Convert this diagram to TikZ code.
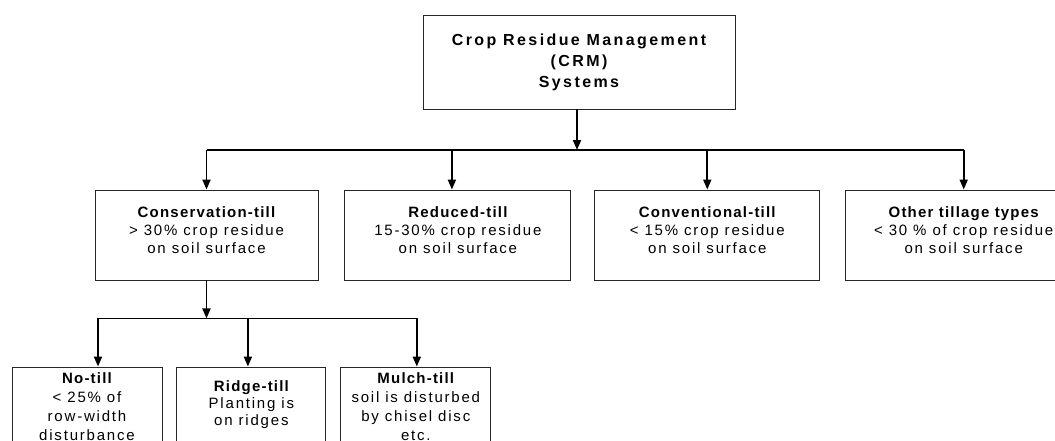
\documentclass[tikz,border=0pt]{standalone}
\usepackage{fontspec}
\setmainfont{Liberation Sans}
\newfontfamily\titlefont[LetterSpace=15]{Liberation Sans}
\newfontfamily\headfont[LetterSpace=8]{Liberation Sans}
\newfontfamily\boxfont[LetterSpace=12]{Liberation Sans}
\usetikzlibrary{positioning, arrows.meta}

\begin{document}
\begin{tikzpicture}[x=1pt, y=1pt, >={Triangle[length=10pt, width=8pt]},
  box/.style={draw=black!85, line width=0.9pt, align=center, inner sep=2pt},
  tillbox/.style={box, minimum height=90pt, font=\boxfont\fontsize{15}{18}\selectfont},
  subbox/.style={box, minimum height=80pt, minimum width=150pt, font=\boxfont\fontsize{15}{19}\selectfont},
  link/.style={line width=1.8pt}]

\useasboundingbox (0,0) rectangle (1055,-440);

% Top
\node (crm) [box, minimum width=312pt, minimum height=94pt, font=\titlefont\bfseries\fontsize{16}{21}\selectfont] at (579,-62) {Crop Residue Management\\ (CRM)\\ Systems};

% Tillage systems
\node (cons) [tillbox, minimum width=223pt] at (206.5,-235) {{\headfont\bfseries Conservation-till}\\ > 30\% crop residue\\ on soil surface\\[-9pt]\mbox{}};
\node (red) [tillbox, minimum width=226pt, right=26pt of cons] {{\headfont\bfseries Reduced-till}\\ 15-30\% crop residue\\ on soil surface\\[-9pt]\mbox{}};
\node (conv) [tillbox, minimum width=225pt, right=23pt of red] {{\headfont\bfseries Conventional-till}\\ < 15\% crop residue\\ on soil surface\\[-9pt]\mbox{}};
\node (other) [tillbox, minimum width=236pt, right=25pt of conv] {{\headfont\bfseries Other tillage types}\\ < 30 \% of crop residue\\ on soil surface\\[-9pt]\mbox{}};

% Conservation-till types
\node (notill) [subbox] at (87,-407) {{\headfont\bfseries No-till}\\ < 25\% of\\ row-width\\ disturbance};
\node (ridge) [subbox, minimum width=149pt, right=14pt of notill] {{\headfont\bfseries Ridge-till}\\[-2pt] Planting is\\[-2pt] on ridges\\[-12pt]\mbox{}};
\node (mulch) [subbox, right=14pt of ridge] {{\headfont\bfseries Mulch-till}\\ soil is disturbed\\ by chisel disc\\ etc.};

% Arrows from top
\coordinate (split) at (577,-150);
\draw[link, ->] (crm.south -| split) -- (split);
\draw[link] (split -| cons) -- (split -| other);
\draw[link, ->] (cons.north |- split) -- (cons.north);
\draw[link, ->] ([xshift=-6pt]red.north |- split) -- ([xshift=-6pt]red.north);
\draw[link, ->] (conv.north |- split) -- (conv.north);
\draw[link, ->] (other.north |- split) -- (other.north);

% Arrows from conservation-till
\coordinate [below=38pt of cons.south] (subsplit);
\draw[link, ->] (cons.south) -- (subsplit);
\draw[link] ([xshift=11pt]notill.north |- subsplit) -- ([xshift=1pt]mulch.north |- subsplit);
\draw[link, ->] ([xshift=11pt]notill.north |- subsplit) -- ([xshift=11pt]notill.north);
\draw[link, ->] ([xshift=-3.5pt]ridge.north |- subsplit) -- ([xshift=-3.5pt]ridge.north);
\draw[link, ->] ([xshift=1pt]mulch.north |- subsplit) -- ([xshift=1pt]mulch.north);

\end{tikzpicture}
\end{document}
